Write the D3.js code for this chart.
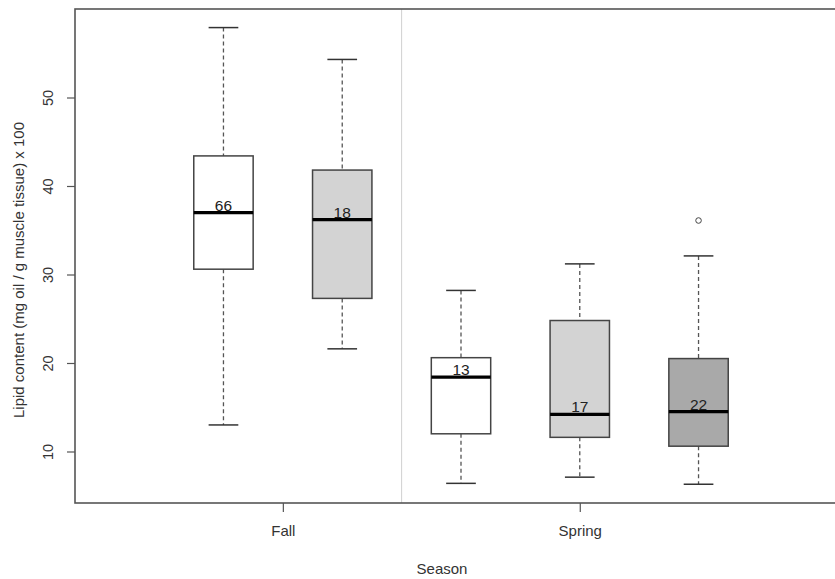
<!DOCTYPE html>
<html>
<head>
<meta charset="utf-8">
<script src="https://cdn.jsdelivr.net/npm/d3@7"></script>
<style>
  body { margin: 0; background: #fff; }
  svg { font-family: "Liberation Sans", Arial, sans-serif; }
</style>
</head>
<body>
<div id="chart"></div>
<script>
"use strict";

// data
const seasons = ["Fall", "Fall", "Spring", "Spring", "Spring"];
const counts = [66, 18, 13, 17, 22];
const lowerWhisker = [13.0, 21.6, 6.4, 7.1, 6.3];
const q1 = [30.6, 27.3, 12.0, 11.6, 10.6];
const median = [37.0, 36.2, 18.4, 14.2, 14.5];
const q3 = [43.4, 41.8, 20.6, 24.8, 20.5];
const upperWhisker = [57.9, 54.3, 28.2, 31.2, 32.1];
const outliers = [[], [], [], [], [36.1]];
const yTicks = [10, 20, 30, 40, 50];

const fills = ["#ffffff", "#d3d3d3", "#ffffff", "#d3d3d3", "#a9a9a9"];

const width = 835, height = 579;
const plot = { left: 75, top: 9, right: 847, bottom: 503 };

const svg = d3.select("#chart").append("svg")
    .attr("width", width)
    .attr("height", height);

const x = d3.scaleLinear().domain([-0.25, 6.25]).range([plot.left, plot.right]);
const y = d3.scaleLinear().domain([4.18, 60]).range([plot.bottom, plot.top]);

const boxes = seasons.map((s, i) => ({
    pos: i + 1, season: s, n: counts[i],
    lo: lowerWhisker[i], q1: q1[i], med: median[i], q3: q3[i], hi: upperWhisker[i],
    out: outliers[i], fill: fills[i]
}));

const boxW = (x(1) - x(0)) * 0.5;

// separator between seasons
svg.append("line")
    .attr("x1", x(2.5)).attr("x2", x(2.5))
    .attr("y1", plot.top).attr("y2", plot.bottom)
    .attr("stroke", "#d0d0d0").attr("stroke-width", 1);

const g = svg.selectAll("g.box").data(boxes).join("g").attr("class", "box");

// whiskers
g.append("line")
    .attr("x1", d => x(d.pos)).attr("x2", d => x(d.pos))
    .attr("y1", d => y(d.hi)).attr("y2", d => y(d.q3))
    .attr("stroke", "#555").attr("stroke-width", 1.3).attr("stroke-dasharray", "4,3");
g.append("line")
    .attr("x1", d => x(d.pos)).attr("x2", d => x(d.pos))
    .attr("y1", d => y(d.q1)).attr("y2", d => y(d.lo))
    .attr("stroke", "#555").attr("stroke-width", 1.3).attr("stroke-dasharray", "4,3");
g.append("line")
    .attr("x1", d => x(d.pos) - boxW / 4).attr("x2", d => x(d.pos) + boxW / 4)
    .attr("y1", d => y(d.hi)).attr("y2", d => y(d.hi))
    .attr("stroke", "#333").attr("stroke-width", 1.5);
g.append("line")
    .attr("x1", d => x(d.pos) - boxW / 4).attr("x2", d => x(d.pos) + boxW / 4)
    .attr("y1", d => y(d.lo)).attr("y2", d => y(d.lo))
    .attr("stroke", "#333").attr("stroke-width", 1.5);

// boxes
g.append("rect")
    .attr("x", d => x(d.pos) - boxW / 2)
    .attr("width", boxW)
    .attr("y", d => y(d.q3))
    .attr("height", d => y(d.q1) - y(d.q3))
    .attr("fill", d => d.fill)
    .attr("stroke", "#444").attr("stroke-width", 1.5);

// medians
g.append("line")
    .attr("x1", d => x(d.pos) - boxW / 2).attr("x2", d => x(d.pos) + boxW / 2)
    .attr("y1", d => y(d.med)).attr("y2", d => y(d.med))
    .attr("stroke", "#000").attr("stroke-width", 3.2);

// sample sizes
g.append("text")
    .attr("x", d => x(d.pos))
    .attr("y", d => y(d.med) - 2)
    .attr("text-anchor", "middle")
    .attr("font-size", 15.5)
    .attr("fill", "#222")
    .text(d => d.n);

// outliers
g.selectAll("circle").data(d => d.out.map(v => ({ pos: d.pos, v }))).join("circle")
    .attr("cx", d => x(d.pos)).attr("cy", d => y(d.v))
    .attr("r", 2.8)
    .attr("fill", "none").attr("stroke", "#444").attr("stroke-width", 1);

// frame
svg.append("rect")
    .attr("x", plot.left).attr("y", plot.top)
    .attr("width", plot.right - plot.left).attr("height", plot.bottom - plot.top)
    .attr("fill", "none").attr("stroke", "#555").attr("stroke-width", 1.6);

// y axis
const yAxis = svg.append("g")
    .attr("transform", `translate(${plot.left},0)`)
    .call(d3.axisLeft(y).tickValues(yTicks).tickSize(8).tickFormat(d3.format("d")));
yAxis.select(".domain").remove();
yAxis.selectAll(".tick line").attr("stroke", "#555").attr("stroke-width", 1.2);
yAxis.selectAll(".tick text")
    .attr("x", null).attr("dy", null)
    .attr("transform", "translate(-22,0) rotate(-90)")
    .attr("text-anchor", "middle")
    .attr("font-size", 14.5)
    .attr("font-family", "Liberation Sans, Arial, sans-serif")
    .attr("fill", "#333");

// x axis: one tick per season at the centre of its boxes
const seasonNames = Array.from(new Set(seasons));
const seasonPos = seasonNames.map(s => d3.mean(boxes.filter(b => b.season === s), b => b.pos));
const xAxis = svg.append("g")
    .attr("transform", `translate(0,${plot.bottom})`)
    .call(d3.axisBottom(x).tickValues(seasonPos).tickSize(9)
        .tickFormat((d, i) => seasonNames[i]));
xAxis.select(".domain").remove();
xAxis.selectAll(".tick line").attr("stroke", "#555").attr("stroke-width", 1.2);
xAxis.selectAll(".tick text")
    .attr("y", 33).attr("dy", null)
    .attr("font-size", 15)
    .attr("font-family", "Liberation Sans, Arial, sans-serif")
    .attr("fill", "#333");

// axis titles
svg.append("text")
    .attr("x", 442).attr("y", 574)
    .attr("text-anchor", "middle")
    .attr("font-size", 15)
    .attr("fill", "#333")
    .text("Season");

svg.append("text")
    .attr("transform", "translate(24,270) rotate(-90)")
    .attr("text-anchor", "middle")
    .attr("font-size", 15)
    .attr("fill", "#333")
    .text("Lipid content (mg oil / g muscle tissue) x 100");
</script>
</body>
</html>
